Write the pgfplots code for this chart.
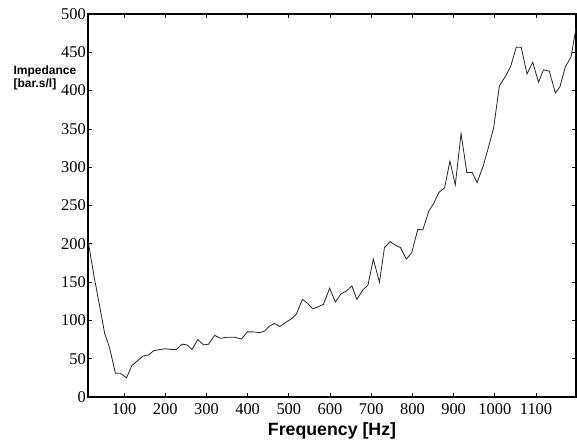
\documentclass[border=0pt]{standalone}
\usepackage{fontspec}
\setmainfont{Liberation Serif}
\newfontfamily\arialfont{Liberation Sans}
\usepackage{pgfplots}
\pgfplotsset{compat=1.18}
\begin{document}
\begin{tikzpicture}[x=1pt,y=1pt]
\path[use as bounding box] (0,0) rectangle (432.75,333);
\begin{axis}[
  at={(66pt,35.25pt)}, anchor=south west,
  width=366pt, height=287.25pt, scale only axis,
  xmin=12.5, xmax=1197, ymin=0, ymax=500,
  xtick={100,200,...,1100}, ytick={0,50,...,500},
  tick align=inside, major tick length=3pt,
  axis line style={line width=0.8pt},
  tick style={black, line width=0.6pt},
  /pgf/number format/assume math mode=true,
  /pgf/number format/1000 sep={},
  ticklabel style={font=\fontsize{12.3}{12.3}\selectfont},
  yticklabel style={inner sep=1.5pt},
  xticklabel style={inner sep=2pt, yshift=-2.5pt},
  xlabel={\arialfont\bfseries Frequency [Hz]},
  xlabel style={font=\fontsize{13.3}{13.3}\selectfont, inner sep=1pt, yshift=-3pt},
  scaled ticks=false,
]
\addplot[black!85, line width=0.6pt] coordinates {
(13,203) (27,158) (41,118) (53,83) (65,64) (79,31) (91,31) (106,25) (119,41) (132,47)
(146,53.5) (160,55) (172,60.5) (187,62) (201,63) (213,62) (227,62) (241,69) (253,68)
(265,62) (279,75) (293,68) (305,69) (320,80.5) (334,76.6) (350,78) (368,78) (385,75.7)
(399,85) (414,85) (429,84) (441,86) (453,92.7) (465,96) (478,92) (494,98) (506,102)
(518,108) (533,127.5) (546,122) (558,115) (572,118) (584,121) (599,142) (613,124)
(627,135) (639,138) (653,145) (665,127.5) (680,140) (692,146) (705,180) (720,150)
(732,195) (746,203) (759,198) (771,195) (785,180) (798,188) (813,219) (825,218)
(840,243) (852,253) (864,267) (878,273) (891,308) (904,277) (918,344) (932,293)
(945,293) (957,280) (972,302) (984,325) (997,351) (1011,406) (1025,418) (1038,431)
(1052,456.5) (1064,456.5) (1078,421.7) (1092,437) (1106,411) (1118,427) (1132,425.6)
(1147,397) (1158,405) (1171,431) (1185,444) (1197,482)
};
\end{axis}
\node[anchor=west, align=left, font=\arialfont\bfseries\fontsize{9}{8.2}\selectfont, inner sep=0pt] at (10,274.5) {Impedance\\{[bar.s/l]}};
\end{tikzpicture}
\end{document}
